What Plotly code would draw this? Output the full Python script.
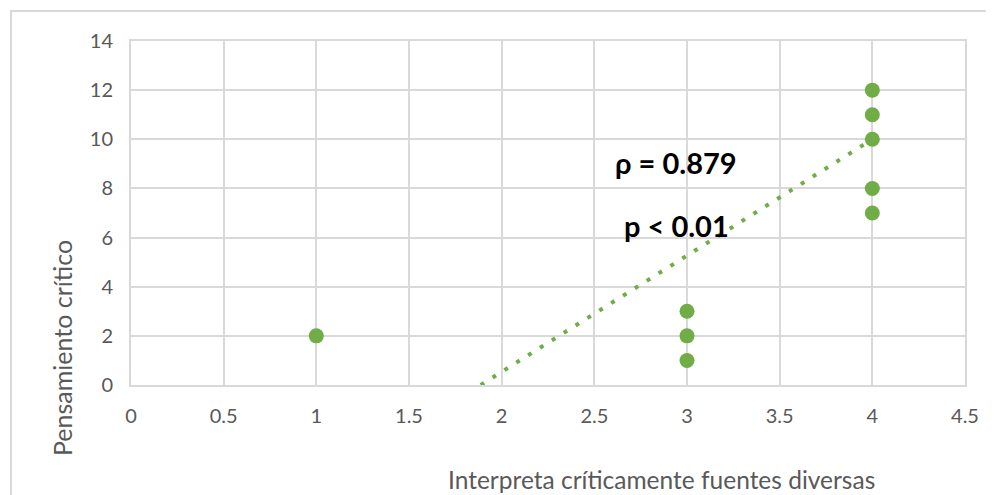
import plotly.graph_objects as go

# Data
x_vals = [1, 3, 3, 3, 4, 4, 4, 4, 4]
y_vals = [2, 3, 2, 1, 12, 11, 10, 8, 7]

# Trendline endpoints (as shown, clipped at y=0)
trend_x = [1.887, 4.0]
trend_y = [0.0, 10.0]

x_ticks = [0, 0.5, 1, 1.5, 2, 2.5, 3, 3.5, 4, 4.5]
x_tick_text = ["0", "0.5", "1", "1.5", "2", "2.5", "3", "3.5", "4", "4.5"]
y_ticks = [0, 2, 4, 6, 8, 10, 12, 14]

x_title = "Interpreta críticamente fuentes diversas"
y_title = "Pensamiento crítico"
stat_lines = ["ρ = 0.879", "p < 0.01"]

GREEN = "#70ad47"
GRID = "#d9d9d9"
TXT = "#595959"
FONT = "Lato, Open Sans, sans-serif"

# page offset (body margin) = 8px; plot area on screen: x 131..965, y 41..385
OFF = 8
PW = 834
PH = 344

fig = go.Figure()
fig.add_trace(go.Scatter(
    x=trend_x, y=trend_y, mode="lines",
    line=dict(color=GREEN, width=4, dash="4px,10px"),
    hoverinfo="skip", showlegend=False,
))
fig.add_trace(go.Scatter(
    x=x_vals, y=y_vals, mode="markers",
    marker=dict(color=GREEN, size=15, line=dict(width=0)),
    showlegend=False,
))

fig.update_xaxes(
    range=[0, 4.5], tickmode="array", tickvals=x_ticks, ticktext=x_tick_text,
    showgrid=True, gridcolor=GRID, gridwidth=1.5,
    zeroline=False, showline=True, linecolor=GRID, linewidth=2, mirror=True,
    ticks="", tickfont=dict(family=FONT, size=20, color=TXT), ticklabelstandoff=12,
)
fig.update_yaxes(
    range=[0, 14], tickmode="array", tickvals=y_ticks,
    showgrid=True, gridcolor=GRID, gridwidth=1.5,
    zeroline=False, showline=True, linecolor=GRID, linewidth=2, mirror=True,
    ticks="", tickfont=dict(family=FONT, size=20, color=TXT), ticklabelstandoff=12,
)

def px(xs):
    return (xs - 131) / PW

def py(ys):
    return (385 - ys) / PH

annotations = [
    dict(text=x_title, xref="paper", yref="paper", x=px(661), y=py(479),
         showarrow=False, xanchor="center", yanchor="middle",
         font=dict(family=FONT, size=24.5, color=TXT)),
    dict(text=y_title, xref="paper", yref="paper", x=px(62), y=py(348),
         showarrow=False, xanchor="center", yanchor="middle", textangle=-90,
         font=dict(family=FONT, size=25, color=TXT)),
    dict(text="<b>" + stat_lines[0] + "</b>", xref="paper", yref="paper",
         x=px(676), y=py(162), showarrow=False,
         xanchor="center", yanchor="middle", font=dict(family=FONT, size=29, color="#000000")),
    dict(text="<b>" + stat_lines[1] + "</b>", xref="paper", yref="paper",
         x=px(676), y=py(225), showarrow=False,
         xanchor="center", yanchor="middle", font=dict(family=FONT, size=29, color="#000000")),
]

fig.update_layout(
    width=994 - OFF, height=495 - OFF,
    margin=dict(l=131 - OFF, r=994 - 965, t=41 - OFF, b=495 - 385),
    paper_bgcolor="white", plot_bgcolor="white",
    annotations=annotations,
    shapes=[dict(type="rect", xref="paper", yref="paper",
                 x0=px(11), x1=px(1100),
                 y0=py(560), y1=py(11),
                 line=dict(color=GRID, width=2), layer="below")],
)

fig.write_html("out.html")
